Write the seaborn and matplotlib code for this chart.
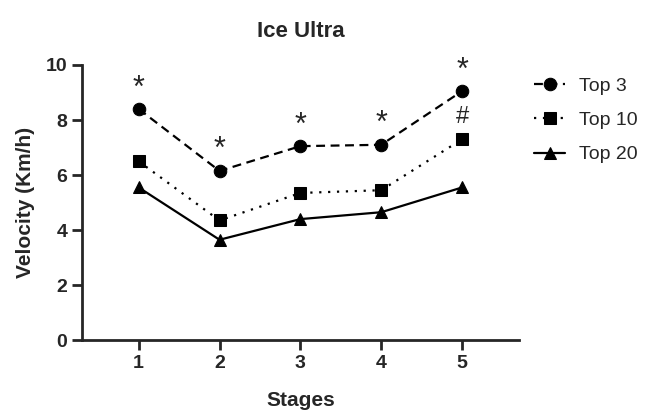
import pandas as pd
import numpy as np
import seaborn as sns
import matplotlib.pyplot as plt

# Values
stages = [1, 2, 3, 4, 5]
top3 = [8.4, 6.15, 7.05, 7.1, 9.05]
top10 = [6.5, 4.35, 5.35, 5.45, 7.3]
top20 = [5.55, 3.65, 4.4, 4.65, 5.55]
top3_marks = ['*', '*', '*', '*', '*']
top10_marks = ['', '', '', '', '#']

sns.set_theme(style='ticks')
plt.rcParams['font.family'] = ['Liberation Sans', 'DejaVu Sans']

df = pd.DataFrame({'Stages': stages * 3,
                   'Velocity': top3 + top10 + top20,
                   'Group': ['Top 3'] * 5 + ['Top 10'] * 5 + ['Top 20'] * 5})

fig = plt.figure(figsize=(6.46, 4.19), dpi=100)
ax = fig.add_axes([0.127, 0.188, 0.676, 0.657])

styles = {'Top 3': dict(marker='o', linestyle=(0, (4, 2.5))),
          'Top 10': dict(marker='s', linestyle=(0, (1, 3))),
          'Top 20': dict(marker='^', linestyle='-')}

for name, st in styles.items():
    sub = df[df['Group'] == name]
    sns.lineplot(data=sub, x='Stages', y='Velocity', ax=ax, color='black',
                 linewidth=1.6, markersize=9, markeredgecolor='black',
                 label=name, **st)

# significance marks
for x, y, m in zip(stages, top3, top3_marks):
    ax.annotate(m, (x, y), xytext=(0, 4), textcoords='offset points',
                ha='center', va='bottom', fontsize=22)
for x, y, m in zip(stages, top10, top10_marks):
    if m:
        ax.annotate(m, (x, y), xytext=(0, 8), textcoords='offset points',
                    ha='center', va='bottom', fontsize=17)

ax.set_xlim(0.3, 5.7)
ax.set_ylim(0, 10)
ax.set_xticks(stages)
ax.set_yticks([0, 2, 4, 6, 8, 10])
ax.tick_params(width=2, length=7, labelsize=14)
for lab in ax.get_xticklabels() + ax.get_yticklabels():
    lab.set_fontweight('bold')
for s in ['left', 'bottom']:
    ax.spines[s].set_linewidth(2)
sns.despine(ax=ax)

ax.set_xlabel('Stages', fontsize=15, fontweight='bold', labelpad=14)
ax.set_ylabel('Velocity (Km/h)', fontsize=15, fontweight='bold', labelpad=8)
ax.set_title('Ice Ultra', fontsize=16, fontweight='bold', pad=20)

ax.legend_.remove()
h, l = ax.get_legend_handles_labels()
fig.legend(h, l, loc='upper left', bbox_to_anchor=(0.80, 0.857), frameon=False,
           fontsize=14, handlelength=1.6, labelspacing=0.85, handletextpad=0.7)

plt.savefig('out.png', dpi=100)
plt.close()
